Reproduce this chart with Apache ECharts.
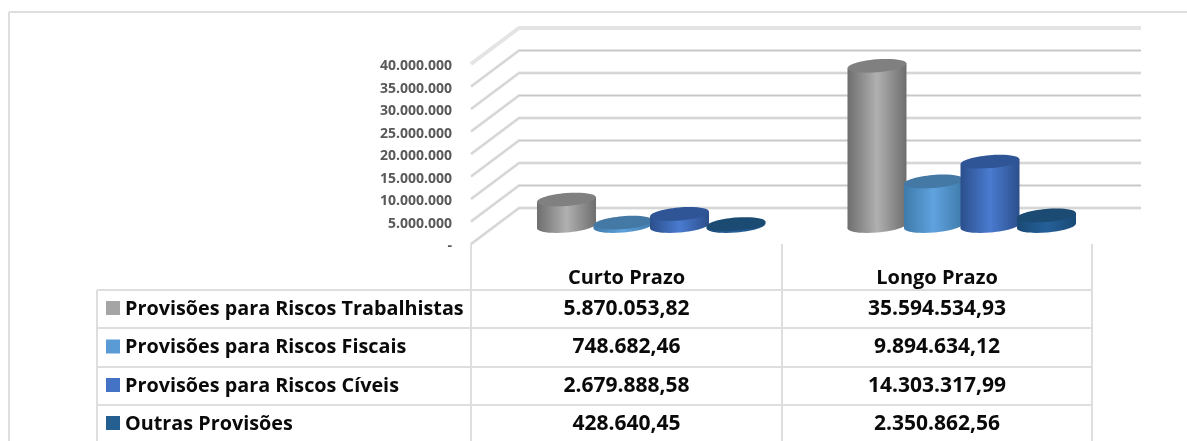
<!DOCTYPE html>
<html>
<head>
<meta charset="utf-8">
<title>Provisões</title>
<style>
  html, body { margin: 0; padding: 0; background: #fff; }
  #chart { width: 1187px; height: 441px; }
</style>
<script src="https://cdn.jsdelivr.net/npm/echarts@6/dist/echarts.min.js"></script>
</head>
<body>
<div id="chart"></div>
<script>
const categories = ['Curto Prazo', 'Longo Prazo'];
const seriesNames = [
    'Provisões para Riscos Trabalhistas',
    'Provisões para Riscos Fiscais',
    'Provisões para Riscos Cíveis',
    'Outras Provisões'
];
const trabalhistas = [5870053.82, 35594534.93];
const fiscais = [748682.46, 9894634.12];
const civeis = [2679888.58, 14303317.99];
const outras = [428640.45, 2350862.56];
const yTicks = [0, 5000000, 10000000, 15000000, 20000000, 25000000, 30000000, 35000000, 40000000];

const allValues = [trabalhistas, fiscais, civeis, outras];
// centro, borda, tampa, cor da legenda
const palette = [
    { mid: '#b0b0b0', edge: '#6e6e6e', top: '#808080', key: '#a5a5a5' },
    { mid: '#5fa2de', edge: '#3f7bab', top: '#4478a5', key: '#5b9bd5' },
    { mid: '#4a7bd0', edge: '#2b4f8c', top: '#2f5597', key: '#4472c4' },
    { mid: '#256099', edge: '#1a4a75', top: '#1b4a72', key: '#255e91' }
];

const FONT = '"Open Sans"';
const DEPTH_X = 48, DEPTH_Y = 36;

function fmt(v) {
    return v.toLocaleString('pt-BR', { minimumFractionDigits: 2, maximumFractionDigits: 2 });
}

function axisLabel(v) {
    return '{a|' + (v === 0 ? '-' : v.toLocaleString('pt-BR')) + '}';
}

function renderWall(params, api) {
    const rect = params.coordSys;
    const y = api.coord([0, api.value(0)])[1];
    const isTop = api.value(0) === yTicks[yTicks.length - 1];
    const pts = [
        [rect.x, y],
        [rect.x + DEPTH_X, y - DEPTH_Y],
        [rect.x + rect.width + DEPTH_X + 1, y - DEPTH_Y]
    ];
    const children = [{
        type: 'polyline',
        shape: { points: pts },
        style: { fill: null, stroke: '#e4e4e4', lineWidth: isTop ? 4 : 3 }
    }];
    if (!isTop) {
        children.push({
            type: 'polyline',
            shape: { points: pts },
            style: { fill: null, stroke: '#c8c8c8', lineWidth: 1 }
        });
    }
    return { type: 'group', children };
}

function renderCylinder(params, api) {
    const c = palette[params.seriesIndex - 1];
    const band = api.size([1, 0])[0];
    const pitch = band * 0.182;
    const w = band * 0.095;
    const ry = 6.5;
    const tilt = 2.5;
    const base = api.coord([api.value(0), 0]);
    const head = api.coord([api.value(0), api.value(1)]);
    const cx = base[0] + DEPTH_X / 2 + 1 + (params.seriesIndex - 2.5) * pitch;
    const yb = base[1] - DEPTH_Y / 2;
    const yt = head[1] - DEPTH_Y / 2;
    const rot = Math.atan2(tilt, w);
    const side = {
        type: 'linear', x: 0, y: 0, x2: 1, y2: 0,
        colorStops: [
            { offset: 0, color: c.edge },
            { offset: 0.5, color: c.mid },
            { offset: 1, color: c.edge }
        ]
    };
    return {
        type: 'group',
        children: [
            {
                type: 'ellipse',
                shape: { cx: 0, cy: 0, rx: w, ry: ry },
                x: cx, y: yb, rotation: rot,
                style: { fill: side }
            },
            {
                type: 'polygon',
                shape: { points: [
                    [cx - w, yt + tilt], [cx + w, yt - tilt],
                    [cx + w, yb - tilt], [cx - w, yb + tilt]
                ] },
                style: { fill: side }
            },
            {
                type: 'ellipse',
                shape: { cx: 0, cy: 0, rx: w, ry: ry },
                x: cx, y: yt, rotation: rot,
                style: { fill: c.top }
            }
        ]
    };
}

// tabela de dados abaixo do grafico
const colX = [97, 471, 782, 1092];
const rowY = [290, 328, 367, 405, 443];
const tableTop = 244;

function line(x1, y1, x2, y2, w) {
    return {
        type: 'line',
        shape: { x1, y1, x2, y2 },
        style: { stroke: '#dedede', lineWidth: w || 2 },
        silent: true
    };
}

function cellText(x, y, text, align, size) {
    return {
        type: 'text', x, y,
        style: {
            text, fill: '#0a0a0a', align: align, verticalAlign: 'middle',
            font: 'bold ' + size + 'px ' + FONT
        },
        silent: true
    };
}

function buildTable() {
    const out = [];
    // moldura externa
    out.push(line(9, 12, 1187, 12));
    out.push(line(9, 12, 9, 441));
    rowY.forEach(y => out.push(line(colX[0], y, colX[3], y)));
    out.push(line(colX[0], rowY[0], colX[0], 441));
    out.push(line(colX[1], tableTop, colX[1], 441));
    out.push(line(colX[2], tableTop, colX[2], 441));
    out.push(line(colX[3], tableTop, colX[3], 441));

    const centers = [(colX[1] + colX[2]) / 2, (colX[2] + colX[3]) / 2];
    categories.forEach((cat, i) => out.push(cellText(centers[i], 278, cat, 'center', 20)));
    seriesNames.forEach((name, r) => {
        const mid = (rowY[r] + rowY[r + 1]) / 2;
        out.push({
            type: 'rect',
            shape: { x: 106, y: mid - 8, width: 14, height: 14 },
            style: { fill: palette[r].key },
            silent: true
        });
        out.push(cellText(125, mid, name, 'left', 19.8));
        allValues[r].forEach((v, i) => out.push(cellText(centers[i], mid, fmt(v), 'center', 21)));
    });
    return out;
}

const chart = echarts.init(document.getElementById('chart'), null, { renderer: 'canvas' });

const option = {
    animation: false,
    backgroundColor: '#ffffff',
    grid: { left: 471, right: 95, top: 64, bottom: 197, containLabel: false },
    xAxis: {
        type: 'category',
        data: categories,
        axisLine: { show: false },
        axisTick: { show: false },
        axisLabel: { show: false }
    },
    yAxis: {
        type: 'value',
        min: 0,
        max: 40000000,
        interval: 5000000,
        axisLine: { show: false },
        axisTick: { show: false },
        splitLine: { show: false },
        axisLabel: {
            margin: 19,
            formatter: axisLabel,
            rich: {
                a: {
                    color: '#595959',
                    fontFamily: 'Open Sans',
                    fontWeight: 'bold',
                    fontSize: 14,
                    padding: [5, 0, 0, 0]
                }
            }
        }
    },
    graphic: { elements: buildTable() },
    series: [
        {
            type: 'custom',
            name: 'grade',
            silent: true,
            renderItem: renderWall,
            encode: { y: 0 },
            data: yTicks.map(v => [v]),
            z: 1
        }
    ].concat(seriesNames.map((name, s) => ({
        type: 'custom',
        name,
        renderItem: renderCylinder,
        encode: { x: 0, y: 1 },
        data: allValues[s].map((v, i) => [i, v]),
        z: 2 + s
    })))
};

chart.setOption(option);
</script>
</body>
</html>
